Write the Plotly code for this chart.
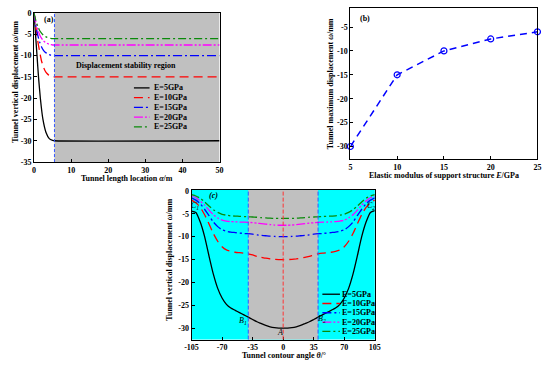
import plotly.graph_objects as go

W, H = 550, 368
FONT = "Liberation Serif"

# ---------------- data (a) ----------------
len_x_E5 = [0, 0.4, 0.8, 1.2, 1.7, 2.4, 3.2, 4.1, 5.0, 5.5, 50]
len_y_E5 = [0, -5, -10, -15, -20, -25, -28, -29.5, -29.9, -30, -30]
len_x = [0, 0.5, 1, 1.5, 2, 2.5, 3, 3.5, 4, 4.5, 5, 5.5, 50]
len_y_E10 = [0, -3.3, -6.5, -9.0, -11.2, -12.6, -13.6, -14.2, -14.6, -14.85, -15, -15, -15]
len_y_E15 = [0, -3.0, -5.2, -6.8, -7.9, -8.7, -9.2, -9.5, -9.75, -9.9, -10, -10, -10]
len_y_E20 = [0, -2.2, -3.9, -5.1, -5.9, -6.5, -6.85, -7.1, -7.3, -7.4, -7.5, -7.5, -7.5]
len_y_E25 = [0, -1.8, -3.1, -4.1, -4.7, -5.2, -5.5, -5.7, -5.85, -5.95, -6, -6, -6]
stable_start = 5.5

# ---------------- data (b) ----------------
modulus = [5, 10, 15, 20, 25]
max_disp = [-30, -15, -10, -7.5, -6]

# ---------------- data (c) ----------------
angle = [-105, -100, -95, -90, -85, -80, -75, -70, -65, -60, -55, -50, -45, -40, -35, -30, -25, -20, -15, -10, -5, 0,
         5, 10, 15, 20, 25, 30, 35, 40, 45, 50, 55, 60, 65, 70, 75, 80, 85, 90, 95, 100, 105]
ang_E5 = [-4.4, -4.7, -6.8, -10.0, -14.2, -18.2, -21.3, -23.4, -24.8, -25.6, -26.1, -26.6, -27.1, -27.6, -28.1, -28.6, -29.0, -29.4, -29.7, -29.9, -30.0, -30.0,
          -30.0, -29.9, -29.7, -29.4, -29.0, -28.6, -28.1, -27.6, -27.1, -26.6, -26.1, -25.6, -24.8, -23.4, -21.3, -18.2, -14.2, -10.0, -6.8, -4.7, -4.3]
ang_E10 = [-2.0, -2.6, -3.6, -5.2, -7.2, -9.3, -11.0, -12.2, -12.9, -13.2, -13.4, -13.5, -13.6, -13.75, -14.0, -14.3, -14.5, -14.7, -14.85, -14.95, -15.0, -15.0,
           -15.0, -14.95, -14.85, -14.7, -14.5, -14.3, -14.0, -13.75, -13.6, -13.5, -13.4, -13.2, -12.9, -12.2, -11.0, -9.3, -7.2, -5.2, -3.6, -2.6, -2.0]
ang_E15 = [-1.5, -2.0, -2.8, -4.0, -5.4, -6.8, -7.8, -8.5, -8.8, -9.0, -9.1, -9.2, -9.3, -9.35, -9.45, -9.6, -9.7, -9.8, -9.9, -9.95, -10.0, -10.0,
           -10.0, -9.95, -9.9, -9.8, -9.7, -9.6, -9.45, -9.35, -9.3, -9.2, -9.1, -9.0, -8.8, -8.5, -7.8, -6.8, -5.4, -4.0, -2.8, -2.0, -1.5]
ang_E20 = [-1.1, -1.5, -2.2, -3.1, -4.2, -5.2, -5.9, -6.4, -6.6, -6.7, -6.75, -6.8, -6.8, -6.85, -6.95, -7.05, -7.15, -7.25, -7.35, -7.45, -7.5, -7.5,
           -7.5, -7.45, -7.35, -7.25, -7.15, -7.05, -6.95, -6.85, -6.8, -6.8, -6.75, -6.7, -6.6, -6.4, -5.9, -5.2, -4.2, -3.1, -2.2, -1.5, -1.1]
ang_E25 = [-0.8, -1.1, -1.6, -2.4, -3.3, -4.1, -4.7, -5.1, -5.3, -5.45, -5.5, -5.55, -5.6, -5.65, -5.7, -5.75, -5.85, -5.9, -5.95, -6.0, -6.0, -6.0,
           -6.0, -6.0, -5.95, -5.9, -5.85, -5.75, -5.7, -5.65, -5.6, -5.55, -5.5, -5.45, -5.3, -5.1, -4.7, -4.1, -3.3, -2.4, -1.6, -1.1, -0.8]
zone_half = 40

# ---------------- ticks ----------------
a_xticks = [0, 10, 20, 30, 40, 50]
a_yticks = [0, -5, -10, -15, -20, -25, -30, -35]
b_xticks = [5, 10, 15, 20, 25]
b_yticks = [-5, -10, -15, -20, -25, -30]
c_xticks = [-105, -70, -35, 0, 35, 70, 105]
c_yticks = [0, -5, -10, -15, -20, -25, -30]

names = ["E=5GPa", "E=10GPa", "E=15GPa", "E=20GPa", "E=25GPa"]
colors = ["#000000", "#FF0000", "#0000FF", "#FF00FF", "#0A8A0A"]
dashes = ["solid", "9px,5px", "9px,3px,2px,3px", "9px,2px,2px,2px,2px,2px", "8px,3px,2px,3px"]


def px(p):
    return p / W


def py(p):
    return 1 - p / H


def lbl(v):
    return str(v)


fig = go.Figure()

# (a) traces
a_series = [(len_x_E5, len_y_E5), (len_x, len_y_E10), (len_x, len_y_E15), (len_x, len_y_E20), (len_x, len_y_E25)]
for (xs, ys), n, c, d in zip(a_series, names, colors, dashes):
    fig.add_trace(go.Scatter(x=xs, y=ys, mode="lines", name=n, xaxis="x", yaxis="y",
                             line=dict(color=c, dash=d, width=1.3, shape="spline", smoothing=0.5),
                             showlegend=False))

# (b)
fig.add_trace(go.Scatter(x=modulus, y=max_disp, mode="lines+markers", xaxis="x2", yaxis="y2",
                         line=dict(color="#0000FF", dash="7px,5px", width=1.5),
                         marker=dict(symbol="circle-open", size=6, color="#0000FF", line=dict(width=1.2)),
                         cliponaxis=False, showlegend=False))

# (c)
for ys, n, c, d in zip([ang_E5, ang_E10, ang_E15, ang_E20, ang_E25], names, colors, dashes):
    fig.add_trace(go.Scatter(x=angle, y=ys, mode="lines", name=n, xaxis="x3", yaxis="y3",
                             line=dict(color=c, dash=d, width=1.3, shape="spline", smoothing=0.6),
                             showlegend=False))

tickfont = dict(family=FONT, size=8, color="black", weight="bold")
axcommon = dict(showline=True, linecolor="black", linewidth=1, mirror=True, ticks="inside",
                ticklen=3, tickcolor="black", showgrid=False, zeroline=False, tickfont=tickfont,
                tickmode="array", ticklabeloverflow="allow")

fig.update_layout(
    width=W, height=H, margin=dict(l=0, r=0, t=0, b=0),
    paper_bgcolor="white", plot_bgcolor="rgba(0,0,0,0)",
    font=dict(family=FONT, size=8, color="black"),
    xaxis=dict(domain=[px(27.7), px(217.7)], range=[0, 50], anchor="y",
               tickvals=a_xticks, ticktext=[lbl(v) for v in a_xticks], **axcommon),
    yaxis=dict(domain=[py(162), py(9.3)], range=[-35, 0], anchor="x",
               tickvals=a_yticks, ticktext=[lbl(v) for v in a_yticks], **axcommon),
    xaxis2=dict(domain=[px(351.7), px(543.3)], range=[5, 25], anchor="y2",
                tickvals=b_xticks, ticktext=[lbl(v) for v in b_xticks], **axcommon),
    yaxis2=dict(domain=[py(159.3), py(4)], range=[-32.7, -1], anchor="x2",
                tickvals=b_yticks, ticktext=[lbl(v) for v in b_yticks], **axcommon),
    xaxis3=dict(domain=[px(189), px(376.7)], range=[-105, 105], anchor="y3",
                tickvals=c_xticks, ticktext=[lbl(v) for v in c_xticks], **axcommon),
    yaxis3=dict(domain=[py(344), py(190.7)], range=[-32.5, 0.2], anchor="x3",
                tickvals=c_yticks, ticktext=[lbl(v) for v in c_yticks], **axcommon),
)

shapes = []
# (a) gray stability region and boundary
shapes.append(dict(type="rect", xref="x", yref="y domain", x0=stable_start, x1=50, y0=0, y1=1,
                   fillcolor="#C0C0C0", line=dict(width=0), layer="below"))
shapes.append(dict(type="line", xref="x", yref="y domain", x0=stable_start, x1=stable_start, y0=0, y1=1,
                   line=dict(color="#3355FF", width=1, dash="3px,2px"), layer="above"))
# (c) background regions
shapes.append(dict(type="rect", xref="x3 domain", yref="y3 domain", x0=0, x1=1, y0=0, y1=1,
                   fillcolor="#00FFFF", line=dict(width=0), layer="below"))
shapes.append(dict(type="rect", xref="x3", yref="y3 domain", x0=-zone_half, x1=zone_half, y0=0, y1=1,
                   fillcolor="#C0C0C0", line=dict(width=0), layer="below"))
for xv, col in [(-zone_half, "#3355FF"), (zone_half, "#3355FF"), (0, "#FF3333")]:
    shapes.append(dict(type="line", xref="x3", yref="y3 domain", x0=xv, x1=xv, y0=0, y1=1,
                       line=dict(color=col, width=1, dash="4px,2px"), layer="above"))

annotations = []
bf = dict(family=FONT, size=8, color="black")

# custom legends
for i, (n, c, d) in enumerate(zip(names, colors, dashes)):
    ya = 86 + 10 * i
    shapes.append(dict(type="line", xref="paper", yref="paper", x0=px(130), x1=px(146), y0=py(ya), y1=py(ya),
                       line=dict(color=c, dash=d, width=1.3)))
    annotations.append(dict(xref="paper", yref="paper", x=px(150), y=py(ya), text="<b>%s</b>" % n,
                            showarrow=False, xanchor="left", yanchor="middle", font=bf, borderpad=0))
    yc = 297.5 + 9.5 * i
    shapes.append(dict(type="line", xref="paper", yref="paper", x0=px(323), x1=px(341), y0=py(yc), y1=py(yc),
                       line=dict(color=c, dash=d, width=1.3)))
    annotations.append(dict(xref="paper", yref="paper", x=px(342.5), y=py(yc), text="<b>%s</b>" % n,
                            showarrow=False, xanchor="left", yanchor="middle", font=bf, borderpad=0))

# axis titles
def title(x, y, text, angle=0):
    annotations.append(dict(xref="paper", yref="paper", x=px(x), y=py(y), text=text, showarrow=False,
                            xanchor="center", yanchor="middle", textangle=angle, font=bf, borderpad=0))

title(8, 80, "<b>Tunnel vertical displacement <i>ω</i>/mm</b>", -90)
title(122.7, 178.5, "<b>Tunnel length location <i>α</i>/m</b>")
title(332, 82, "<b>Tunnel maximum displacement <i>ω</i>/mm</b>", -90)
title(447.5, 176, "<b>Elastic modulus of support structure <i>E</i>/GPa</b>")
title(167, 262, "<b>Tunnel vertical displacement <i>ω</i>/mm</b>", -90)
title(283.8, 360.5, "<b>Tunnel contour angle <i>θ</i>/°</b>")

# panel labels
title(42.7, 15.7, "<b>(a)</b>")
title(366.7, 15, "<b>(b)</b>")
title(121.7, 62.7, "<b>Displacement stability region</b>")
annotations.append(dict(xref="x3", yref="y3", x=-80, y=-0.9, text="<b><i>(c)</i></b>", showarrow=False,
                        font=bf, borderpad=0))

# point labels in (c)
for xv, yv, t in [(-101, -3.4, "C<sub>1</sub>"), (101, -3.4, "C<sub>2</sub>"), (-46, -28.4, "B<sub>1</sub>"),
                  (44, -28.0, "B<sub>2</sub>"), (-4, -31.0, "A")]:
    annotations.append(dict(xref="x3", yref="y3", x=xv, y=yv, text="<i>%s</i>" % t, showarrow=False,
                            font=dict(family=FONT, size=8, color="black"), borderpad=0))

fig.update_layout(shapes=shapes, annotations=annotations)
fig.write_html("out.html", config={"displayModeBar": False},
               post_script="document.body.style.margin='0';document.body.style.overflow='hidden';")
